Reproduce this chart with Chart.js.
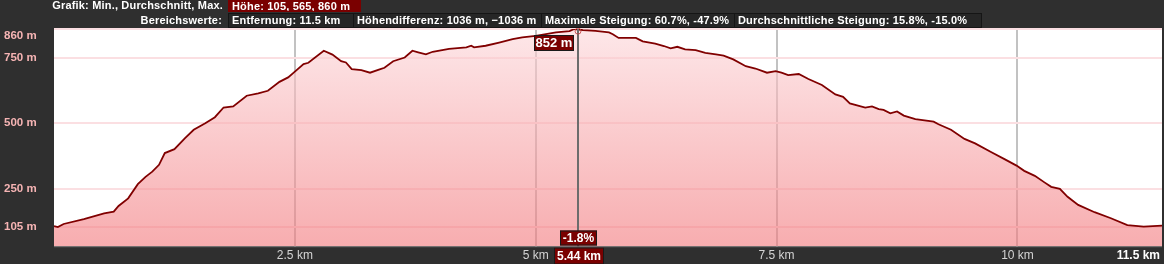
<!DOCTYPE html>
<html>
<head>
<meta charset="utf-8">
<script src="https://cdn.jsdelivr.net/npm/chart.js@4.4.0/dist/chart.umd.min.js"></script>
<style>
html, body { margin: 0; padding: 0; background: #2f2f2f; width: 1164px; height: 264px; overflow: hidden; }
#wrap { position: relative; width: 1164px; height: 264px; }
#profile { position: absolute; left: 0; top: 0; }
.hdr { position: absolute; font: bold 11px "Liberation Sans", Arial, sans-serif; letter-spacing: 0.18px; color: #fff; white-space: nowrap; overflow: hidden; }
.lbl { text-align: right; }
.box { box-sizing: border-box; border: 1px solid #151515; background: #262626; padding: 0 3px; line-height: 13px; }
.red { background: #7a0000; border-color: #7a0000; line-height: 12px; }
</style>
</head>
<body>
<div id="wrap">
  <canvas id="profile" width="1164" height="264"></canvas>
  <div class="hdr lbl" style="left:0;width:223px;top:0;line-height:11px;">Grafik: Min., Durchschnitt, Max.</div>
  <div class="hdr box red" style="left:228px;width:133px;top:-1px;height:13px;">Höhe: 105, 565, 860 m</div>
  <div class="hdr lbl" style="left:0;width:222px;top:14px;line-height:13px;">Bereichswerte:</div>
  <div class="hdr box" style="left:228px;width:126px;top:13px;height:15px;">Entfernung: 11.5 km</div>
  <div class="hdr box" style="left:353px;width:189px;top:13px;height:15px;">Höhendifferenz: 1036 m, −1036 m</div>
  <div class="hdr box" style="left:541px;width:194px;top:13px;height:15px;">Maximale Steigung: 60.7%, -47.9%</div>
  <div class="hdr box" style="left:734px;width:248px;top:13px;height:15px;">Durchschnittliche Steigung: 15.8%, -15.0%</div>
</div>
<script>
// elevation profile
const distanceKm = [
  0.00, 0.04, 0.10, 0.31, 0.52, 0.62, 0.67, 0.77, 0.87, 0.95,
  1.02, 1.09, 1.15, 1.25, 1.36, 1.45, 1.57, 1.67, 1.76, 1.86,
  2.00, 2.12, 2.22, 2.34, 2.43, 2.50, 2.59, 2.64, 2.80, 2.89,
  2.98, 3.03, 3.09, 3.19, 3.28, 3.38, 3.43, 3.52, 3.64, 3.72,
  3.78, 3.86, 3.93, 4.10, 4.28, 4.33, 4.36, 4.48, 4.62, 4.76,
  4.86, 5.00, 5.21, 5.35, 5.40, 5.49, 5.62, 5.76, 5.80, 5.86,
  5.97, 6.04, 6.11, 6.24, 6.33, 6.40, 6.47, 6.55, 6.66, 6.76,
  6.87, 6.95, 7.05, 7.18, 7.28, 7.40, 7.49, 7.55, 7.62, 7.73,
  7.83, 7.97, 8.11, 8.19, 8.26, 8.42, 8.49, 8.56, 8.61, 8.68,
  8.75, 8.82, 8.94, 9.13, 9.18, 9.31, 9.45, 9.56, 9.73, 9.87,
  9.99, 10.07, 10.18, 10.28, 10.35, 10.44, 10.52, 10.63, 10.80, 10.97,
  11.14, 11.31, 11.50
];
const elevationM = [
  107, 103, 115, 134, 156, 162, 184, 213, 267, 295,
  315, 341, 386, 401, 443, 475, 500, 523, 560, 564,
  605, 614, 624, 658, 675, 697, 726, 731, 777, 762,
  737, 732, 707, 703, 693, 706, 712, 737, 751, 777,
  771, 763, 773, 784, 790, 796, 790, 796, 808, 821,
  828, 834, 847, 852, 860, 856, 853, 847, 840, 826,
  826, 826, 813, 804, 795, 786, 792, 782, 779, 769,
  763, 758, 744, 718, 709, 693, 699, 693, 684, 688,
  669, 646, 610, 601, 576, 560, 564, 554, 551, 538,
  545, 529, 516, 506, 496, 475, 440, 423, 389, 362,
  338, 318, 299, 274, 257, 249, 219, 188, 160, 137,
  111, 105, 109
];
const xTicks = [0, 2.5, 5, 7.5, 10, 11.5];
const yTicks = [105, 250, 500, 750, 860];
const cursorKm = 5.44;
const cursorElevation = 852;
const cursorGrade = '-1.8%';

const FONT = '"Liberation Sans", Arial, sans-serif';

const plotBackground = {
  id: 'plotBackground',
  beforeDraw(chart) {
    const { ctx, chartArea: a } = chart;
    ctx.save();
    ctx.fillStyle = '#ffffff';
    ctx.fillRect(a.left, a.top, a.right - a.left, a.bottom - a.top);
    ctx.restore();
  },
  afterDraw(chart) {
    const { ctx, chartArea: a } = chart;
    ctx.save();
    ctx.strokeStyle = '#4a4a4a';
    ctx.lineWidth = 1;
    ctx.beginPath();
    ctx.moveTo(a.left, a.bottom + 0.5);
    ctx.lineTo(a.right, a.bottom + 0.5);
    ctx.stroke();
    // last distance label sits flush right
    ctx.fillStyle = '#ffffff';
    ctx.font = 'bold 12px ' + FONT;
    ctx.textAlign = 'right';
    ctx.textBaseline = 'middle';
    ctx.fillText('11.5 km', a.right - 2, 255.5);
    ctx.restore();
  }
};

function tagBox(ctx, text, x, y, w, h) {
  ctx.fillStyle = '#7a0000';
  ctx.fillRect(x, y, w, h);
  ctx.strokeStyle = '#1a1a1a';
  ctx.lineWidth = 1;
  ctx.strokeRect(x + 0.5, y + 0.5, w - 1, h - 1);
  ctx.fillStyle = '#ffffff';
  ctx.textAlign = 'center';
  ctx.textBaseline = 'middle';
  ctx.fillText(text, x + w / 2, y + h / 2 + 0.5);
}

const cursorPlugin = {
  id: 'cursor',
  afterDatasetsDraw(chart) {
    const { ctx, chartArea: a } = chart;
    const xs = chart.scales.x, ys = chart.scales.y;
    const x = Math.round(xs.getPixelForValue(cursorKm));
    const y = ys.getPixelForValue(cursorElevation);
    ctx.save();
    ctx.strokeStyle = '#6c6c6c';
    ctx.lineWidth = 2;
    ctx.beginPath();
    ctx.moveTo(x, a.top);
    ctx.lineTo(x, a.bottom);
    ctx.stroke();

    ctx.strokeStyle = 'rgba(190,60,60,0.8)';
    ctx.lineWidth = 1;
    ctx.beginPath();
    ctx.arc(x, y, 3, 0, Math.PI * 2);
    ctx.stroke();

    ctx.font = 'bold 13px ' + FONT;
    tagBox(ctx, cursorElevation + ' m', x - 44, a.top + 6, 40, 16);
    ctx.font = 'bold 12px ' + FONT;
    tagBox(ctx, cursorGrade, x - 18, a.bottom - 16, 37, 15);
    tagBox(ctx, cursorKm + ' km', x - 24, a.bottom + 1, 50, 17);
    ctx.restore();
  }
};

const ctx = document.getElementById('profile').getContext('2d');
new Chart(ctx, {
  type: 'line',
  data: {
    datasets: [{
      data: distanceKm.map((d, i) => ({ x: d, y: elevationM[i] })),
      borderColor: '#800000',
      borderWidth: 1.8,
      pointRadius: 0,
      tension: 0,
      fill: 'start',
      backgroundColor: c => {
        const a = c.chart.chartArea;
        if (!a) return 'rgba(0,0,0,0)';
        const g = c.chart.ctx.createLinearGradient(0, a.top, 0, a.bottom);
        g.addColorStop(0, 'rgba(252,215,218,0.6)');
        g.addColorStop(1, 'rgba(242,118,122,0.6)');
        return g;
      }
    }]
  },
  options: {
    responsive: false,
    animation: false,
    layout: { padding: { left: 4, top: 29, right: 0, bottom: 0 } },
    plugins: { legend: { display: false }, tooltip: { enabled: false } },
    scales: {
      x: {
        type: 'linear',
        min: 0,
        max: 11.5,
        afterBuildTicks: s => { s.ticks = xTicks.map(v => ({ value: v })); },
        afterFit: s => { s.height = 17.5; },
        border: { display: false },
        grid: {
          drawTicks: false,
          lineWidth: 2,
          color: c => (c.tick && (c.tick.value === 0 || c.tick.value === 11.5)) ? 'rgba(0,0,0,0)' : '#c2c2c2'
        },
        ticks: {
          autoSkip: false,
          maxRotation: 0,
          padding: 2,
          color: '#d4d4d4',
          font: { family: FONT, size: 12 },
          callback: v => (v === 0 || v === 11.5) ? '' : v + ' km'
        }
      },
      y: {
        min: 29,
        max: 860,
        afterBuildTicks: s => { s.ticks = yTicks.map(v => ({ value: v })); },
        afterFit: s => { s.width = 50; },
        border: { display: false },
        grid: { drawTicks: false, lineWidth: 2, color: '#fbdfe2' },
        ticks: {
          crossAlign: 'far',
          padding: 0,
          color: '#f6b4b4',
          font: { family: FONT, size: 11.5, weight: 'bold', lineHeight: 1.2 },
          callback: v => v === 860 ? ['', '860 m'] : v + ' m'
        }
      }
    }
  },
  plugins: [plotBackground, cursorPlugin]
});
</script>
</body>
</html>
